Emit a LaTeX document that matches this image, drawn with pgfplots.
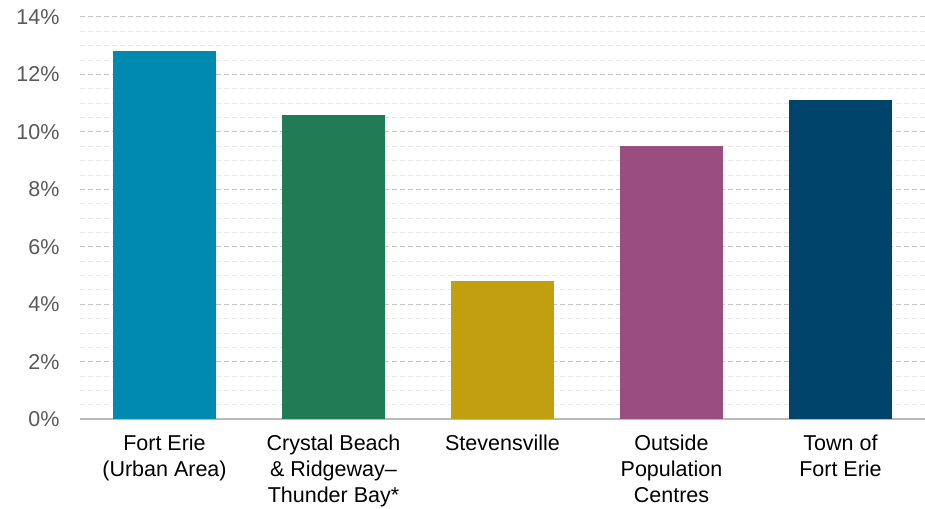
\documentclass[border=0pt]{standalone}
\usepackage{pgfplots}
\pgfplotsset{compat=1.18}
\usepackage{fontspec}
\setmainfont{Liberation Sans}
\definecolor{cA}{HTML}{008AB0}
\definecolor{cB}{HTML}{217C55}
\definecolor{cC}{HTML}{C19F0F}
\definecolor{cD}{HTML}{9A4E80}
\definecolor{cE}{HTML}{00436B}
\definecolor{tickgray}{HTML}{595959}
\begin{document}
\begin{tikzpicture}
\begin{axis}[
  at={(0pt,0pt)}, anchor=south west,
  scale only axis, width=845pt, height=402pt,
  xmin=-0.5, xmax=4.5, ymin=0, ymax=14,
  ybar, bar width=103pt,
  xtick={0,1,2,3,4},
  xticklabels={{Fort Erie\\(Urban Area)},{Crystal Beach\\\& Ridgeway–\\Thunder Bay*},{Stevensville},{Outside\\Population\\Centres},{Town of\\Fort Erie}},
  xticklabel style={align=center, font=\fontsize{21.5}{26}\selectfont, text=black, anchor=north, yshift=-12pt},
  ytick={0,2,...,14},
  minor y tick num=3,
  yticklabel={\pgfmathprintnumber{\tick}\%},
  yticklabel style={font=\fontsize{21.5}{24}\selectfont, text=tickgray, xshift=-17pt},
  /pgf/number format/assume math mode=true,
  major tick length=0pt, minor tick length=0pt,
  ymajorgrids, yminorgrids,
  major grid style={dash pattern=on 5pt off 3pt, draw=black!22, line width=1pt},
  minor grid style={dash pattern=on 5pt off 3pt, draw=black!9, line width=0.7pt},
  axis x line*=bottom, axis y line*=left,
  x axis line style={draw=black!27, line width=2pt, -},
  y axis line style={draw=none},
  tick style={draw=none},
  clip=false,
]
\addplot[fill=cA, draw=none, bar shift=0pt] coordinates {(0,12.8)};
\addplot[fill=cB, draw=none, bar shift=0pt] coordinates {(1,10.6)};
\addplot[fill=cC, draw=none, bar shift=0pt] coordinates {(2,4.8)};
\addplot[fill=cD, draw=none, bar shift=0pt] coordinates {(3,9.5)};
\addplot[fill=cE, draw=none, bar shift=0pt] coordinates {(4,11.1)};
\end{axis}
\pgfresetboundingbox
\path[use as bounding box] (-80pt,-89pt) rectangle (845pt,419pt);
\end{tikzpicture}
\end{document}
